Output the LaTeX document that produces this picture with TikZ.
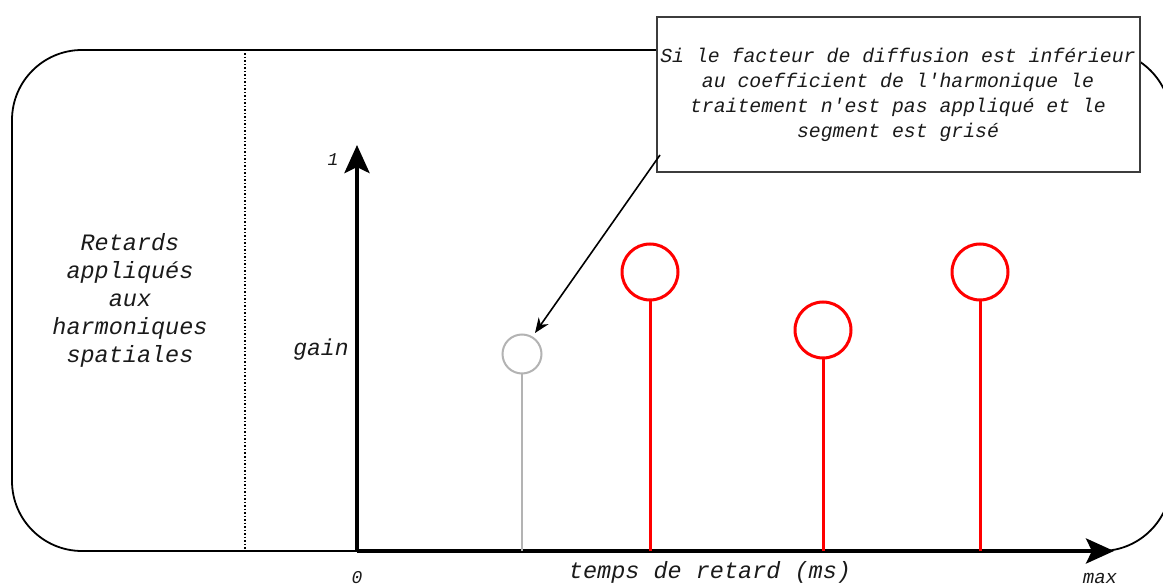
\documentclass[tikz,border=0pt]{standalone}
\usepackage{fontspec}
\setmonofont{Liberation Mono}
\usetikzlibrary{arrows.meta}
\definecolor{txt}{HTML}{1A1A1A}
\definecolor{grisstem}{HTML}{B3B3B3}
\definecolor{rouge}{HTML}{FF0000}
\tikzset{
  lbl/.style={text=txt,font=\ttfamily\itshape,inner sep=0pt},
  axis/.style={line width=4.5pt,-{Stealth[length=28pt,width=25pt,inset=6pt]}},
  redstem/.style={draw=rouge,line width=3pt},
  redhead/.style={circle,draw=rouge,line width=3pt,fill=white,minimum size=56pt,inner sep=0pt},
  greystem/.style={draw=grisstem,line width=2pt},
  greyhead/.style={circle,draw=grisstem,line width=2pt,fill=white,minimum size=39pt,inner sep=0pt},
}
\begin{document}
\begin{tikzpicture}[x=1pt,y=-1pt]
\useasboundingbox (0,0) rectangle (1163,585);
\begin{scope}
\clip (0,0) rectangle (1163,585);
\draw[line width=1.8pt,rounded corners=70pt] (12,50) rectangle (1171,551);
\end{scope}
\draw[line width=1.5pt,dotted] (245,50) -- (245,551);
\node[lbl,font=\fontsize{23.5}{28}\ttfamily\itshape,align=center] (left) at (130,300) {Retards\\appliqués\\aux\\harmoniques\\spatiales};
% axes
\coordinate (o) at (357,551);
\coordinate (ytip) at (357,145);
\coordinate (xtip) at (1114,551);
\draw[axis] (o) -- (ytip);
\draw[axis] (o) -- (xtip);
\node[lbl,font=\fontsize{18}{20}\ttfamily\itshape] (one) at (333,160) {1};
\node[lbl,font=\fontsize{23}{26}\ttfamily\itshape] (gain) at (321,350) {gain};
\node[lbl,font=\fontsize{18}{20}\ttfamily\itshape] (zero) at (357,578) {0};
\node[lbl,font=\fontsize{23.5}{26}\ttfamily\itshape] (temps) at (710,572) {temps de retard (ms)};
\node[lbl,font=\fontsize{19}{22}\ttfamily\itshape] (max) at (1100,578) {max};
% stems
\coordinate (g0) at (522,551);
\node[greyhead] (g) at (522,354) {};
\draw[greystem] (g0) -- (g.south);
\coordinate (r10) at (650,551);
\node[redhead] (r1) at (650,272) {};
\draw[redstem] (r10) -- (r1.south);
\coordinate (r20) at (823,551);
\node[redhead] (r2) at (823,330) {};
\draw[redstem] (r20) -- (r2.south);
\coordinate (r30) at (980,551);
\node[redhead] (r3) at (980,272) {};
\draw[redstem] (r30) -- (r3.south);
% callout
\node[draw=txt!85,line width=1.6pt,fill=white,minimum width=483pt,minimum height=155pt,inner sep=0pt] (call) at (898.5,94.5) {};
\node[lbl,font=\fontsize{19.8}{25}\ttfamily\itshape,align=center] (calltxt) at (898,95) {Si le facteur de diffusion est inférieur\\au coefficient de l'harmonique le\\traitement n'est pas appliqué et le\\segment est grisé};
\coordinate (cstart) at (660,155);
\coordinate (cend) at (535,333);
\draw[line width=1.6pt,-{Stealth[length=15pt,width=12pt]}] (cstart) -- (cend);
\end{tikzpicture}
\end{document}
